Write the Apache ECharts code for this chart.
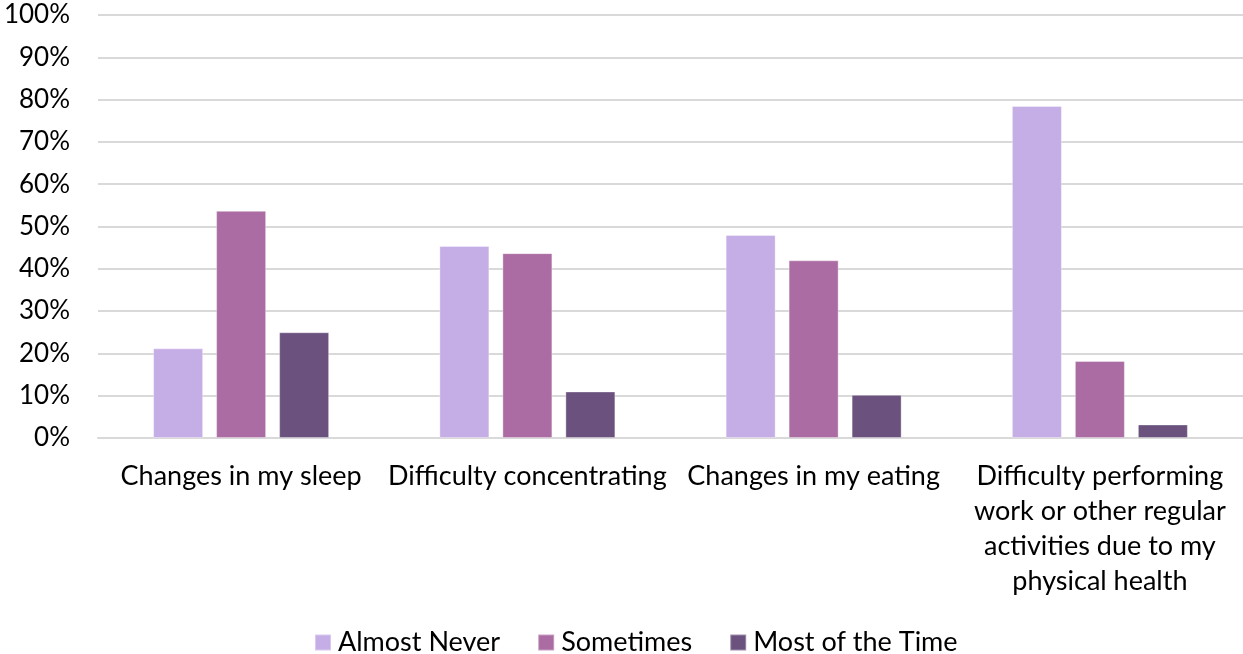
<!DOCTYPE html>
<html>
<head>
<meta charset="utf-8">
<script src="https://cdn.jsdelivr.net/npm/echarts@6/dist/echarts.min.js"></script>
<style>
html,body{margin:0;padding:0;background:#fff;}
#chart{width:1243px;height:654px;}
</style>
</head>
<body>
<div id="chart"></div>
<script>
const categories = [
  "Changes in my sleep",
  "Difficulty concentrating",
  "Changes in my eating",
  "Difficulty performing\nwork or other regular\nactivities due to my\nphysical health"
];
const seriesNames = ["Almost Never", "Sometimes", "Most of the Time"];
const almostNever = [21.2, 45.4, 48.0, 78.5];
const sometimes = [53.7, 43.7, 42.0, 18.2];
const mostOfTheTime = [25.0, 11.0, 10.2, 3.2];
const yTicks = [0, 10, 20, 30, 40, 50, 60, 70, 80, 90, 100];

const colors = ["#C5ADE5", "#AA6CA2", "#6B527E"];
const font = "Lato, 'Open Sans', sans-serif";

const chart = echarts.init(document.getElementById('chart'), null, {renderer: 'canvas'});
const values = [almostNever, sometimes, mostOfTheTime];
chart.setOption({
  animation: false,
  color: colors,
  grid: {left: 98, right: 0, top: 15, bottom: 216, containLabel: false},
  legend: {
    top: 624,
    left: 309,
    itemWidth: 16,
    itemHeight: 16,
    itemGap: 37,
    icon: 'rect',
    textStyle: {fontFamily: font, fontSize: 27, color: '#000', padding: [0, 0, 0, 2]},
    data: seriesNames
  },
  xAxis: {
    type: 'category',
    data: categories,
    axisLine: {show: true, lineStyle: {color: '#D9D9D9', width: 2}},
    axisTick: {show: false},
    axisLabel: {
      interval: 0,
      margin: 21,
      fontFamily: font,
      fontSize: 27,
      color: '#000',
      lineHeight: 35
    }
  },
  yAxis: {
    type: 'value',
    min: yTicks[0],
    max: yTicks[yTicks.length - 1],
    interval: 10,
    axisLine: {show: false},
    axisTick: {show: false},
    splitLine: {lineStyle: {color: '#D9D9D9', width: 2}},
    axisLabel: {
      margin: 28,
      fontFamily: font,
      fontSize: 26,
      color: '#000',
      formatter: v => v + '%'
    }
  },
  series: seriesNames.map((name, i) => ({
    name: name,
    type: 'bar',
    data: values[i],
    barWidth: 50,
    barGap: '26%',
    itemStyle: {color: colors[i], borderColor: 'rgba(255,255,255,0.35)', borderWidth: 1}
  }))
});
</script>
</body>
</html>
